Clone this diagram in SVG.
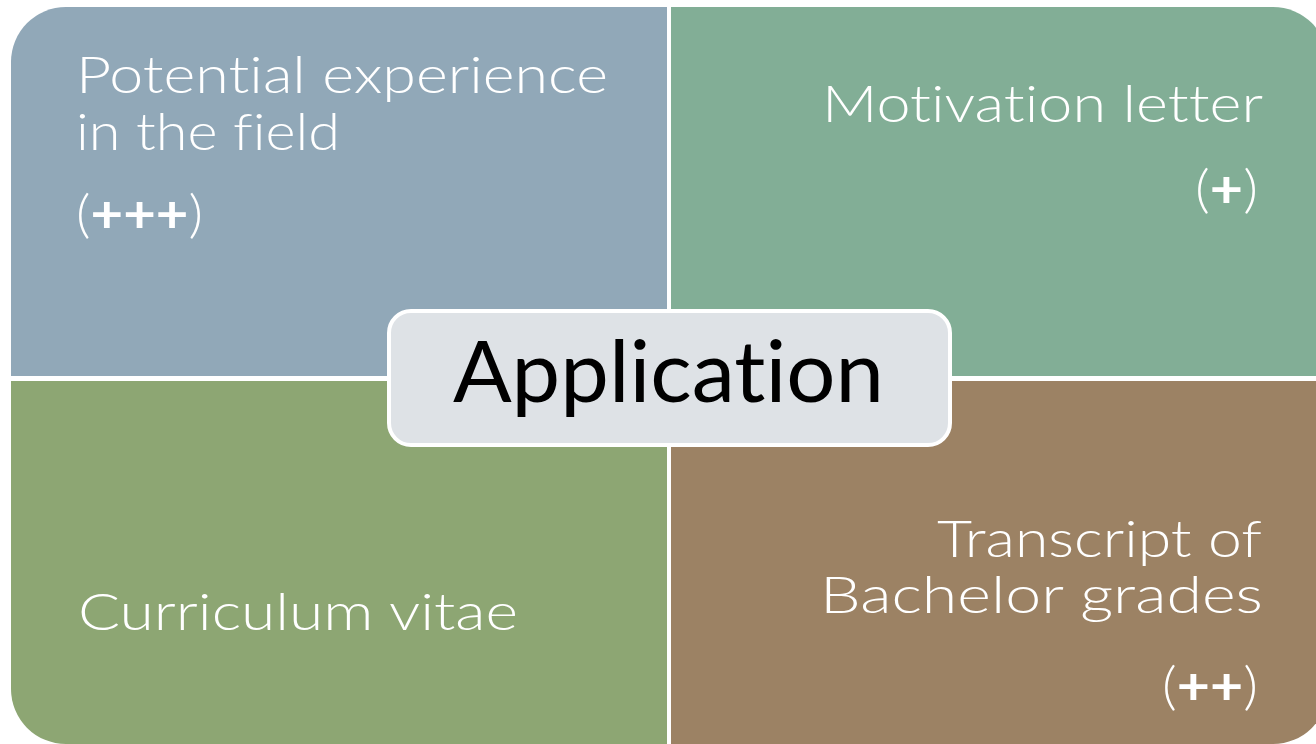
<svg xmlns="http://www.w3.org/2000/svg" width="1316" height="744" viewBox="0 0 1316 744">
  <defs>
    <clipPath id="outer">
      <rect x="11" y="7" width="1317" height="737" rx="55" ry="55"/>
    </clipPath>
  </defs>
  <style>
    text { font-variant-ligatures: none; font-feature-settings: "liga" 0, "dlig" 0; }
    .lbl { font-family: Lato, "Liberation Sans", sans-serif; font-weight: 300; font-size: 52px; fill: #FFFFFF; }
    .plus { font-weight: 700; }
    .center { font-family: Lato, "Liberation Sans", sans-serif; font-weight: 400; font-size: 86px; fill: #000000; }
  </style>
  <rect width="1316" height="744" fill="#FFFFFF"/>
  <g clip-path="url(#outer)">
    <g id="node-experience">
      <rect x="0" y="0" width="667" height="376" fill="#91A8B8"/>
      <text class="lbl" x="76" y="93" textLength="532" lengthAdjust="spacingAndGlyphs">Potential experience</text>
      <text class="lbl" x="76" y="150" textLength="264" lengthAdjust="spacingAndGlyphs">in the field</text>
      <text class="lbl" x="76" y="232" textLength="127" lengthAdjust="spacingAndGlyphs">(<tspan class="plus">+++</tspan>)</text>
    </g>
    <g id="node-motivation">
      <rect x="671" y="0" width="660" height="376" fill="#82AE96"/>
      <text class="lbl" x="822" y="122" textLength="441" lengthAdjust="spacingAndGlyphs">Motivation letter</text>
      <text class="lbl" x="1195" y="207" textLength="63" lengthAdjust="spacingAndGlyphs">(<tspan class="plus">+</tspan>)</text>
    </g>
    <g id="node-cv">
      <rect x="0" y="381" width="667" height="370" fill="#8DA673"/>
      <text class="lbl" x="78" y="630" textLength="440" lengthAdjust="spacingAndGlyphs">Curriculum vitae</text>
    </g>
    <g id="node-transcript">
      <rect x="671" y="381" width="660" height="370" fill="#9C8264"/>
      <text class="lbl" x="937" y="557" textLength="325" lengthAdjust="spacingAndGlyphs">Transcript of</text>
      <text class="lbl" x="820" y="613" textLength="443" lengthAdjust="spacingAndGlyphs">Bachelor grades</text>
      <text class="lbl" x="1162" y="704" textLength="96" lengthAdjust="spacingAndGlyphs">(<tspan class="plus">++</tspan>)</text>
    </g>
  </g>
  <g id="connectors"></g>
  <g id="node-application">
    <rect x="389" y="311" width="561" height="134" rx="22" ry="22" fill="#DEE2E6" stroke="#FFFFFF" stroke-width="4"/>
    <text class="center" x="453" y="402" textLength="431" lengthAdjust="spacingAndGlyphs">Application</text>
  </g>
</svg>
